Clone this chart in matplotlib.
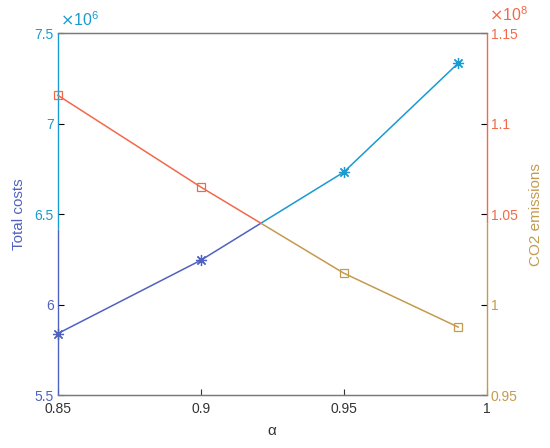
import matplotlib
matplotlib.use("Agg")
import matplotlib.pyplot as plt
from matplotlib.ticker import FuncFormatter, FixedLocator
from matplotlib.patches import Rectangle

plt.rcParams['font.family'] = ['Liberation Sans', 'DejaVu Sans']

alpha = [0.85, 0.90, 0.95, 0.99]
total_costs = [5.84e6, 6.245e6, 6.732e6, 7.334e6]
co2_emissions = [1.1157e8, 1.065e8, 1.0174e8, 0.9876e8]

left_ticks = [5.5e6, 6.0e6, 6.5e6, 7.0e6, 7.5e6]
right_ticks = [0.95e8, 1.0e8, 1.05e8, 1.1e8, 1.15e8]
x_ticks = [0.85, 0.9, 0.95, 1.0]

CYAN = '#1a9ad0'
PURPLE = '#4f62c2'
ORANGE = '#f2694a'
TAN = '#c49a4e'
GRAY = '#7a7a7a'

fig = plt.figure(figsize=(5.5, 4.48), dpi=100)
ax = fig.add_axes([0.105, 0.118, 0.78, 0.808])
ax2 = ax.twinx()

xsplit = 0.473  # axes fraction where colour changes (crossing of the lines)
ysplit_l = 0.46
ysplit_r = 0.475

def split_plot(axis, x, y, c_left, c_right, **kw):
    l1, = axis.plot(x, y, color=c_left, clip_on=True, **kw)
    l2, = axis.plot(x, y, color=c_right, clip_on=True, **kw)
    r1 = Rectangle((-0.05, -0.05), xsplit + 0.05, 1.1, transform=axis.transAxes)
    r2 = Rectangle((xsplit, -0.05), 1.1, 1.1, transform=axis.transAxes)
    l1.set_clip_path(r1)
    l2.set_clip_path(r2)

split_plot(ax, alpha, total_costs, PURPLE, CYAN, lw=1.1,
           marker=(8, 2, 0), markersize=8, markeredgewidth=0.9)
split_plot(ax2, alpha, co2_emissions, ORANGE, TAN, lw=1.1,
           marker='s', markersize=5.5, markerfacecolor='none', markeredgewidth=0.9)

ax.set_xlim(0.85, 1.0)
ax.set_ylim(5.5e6, 7.5e6)
ax2.set_ylim(0.95e8, 1.15e8)

ax.xaxis.set_major_locator(FixedLocator(x_ticks))
ax.xaxis.set_major_formatter(FuncFormatter(lambda v, p: f'{v:g}'))
ax.yaxis.set_major_locator(FixedLocator(left_ticks))
ax.yaxis.set_major_formatter(FuncFormatter(lambda v, p: f'{round(v/1e6, 3):g}'))
ax2.yaxis.set_major_locator(FixedLocator(right_ticks))
ax2.yaxis.set_major_formatter(FuncFormatter(lambda v, p: f'{round(v/1e8, 3):g}'))

for a in (ax, ax2):
    a.tick_params(direction='in', length=4, width=0.8, labelsize=10)
    a.tick_params(axis='x', which='both', top=False)
ax.tick_params(axis='x', colors='#333333', pad=5)
ax.tick_params(axis='y', pad=3)
ax2.tick_params(axis='y', pad=3)

for s in ('top', 'bottom'):
    ax.spines[s].set_color(GRAY)
    ax2.spines[s].set_color(GRAY)
    ax2.spines[s].set_linewidth(1.0)
for a in (ax, ax2):
    a.spines['left'].set_visible(False)
    a.spines['right'].set_visible(False)

# two-tone y spines
ax.plot([0, 0], [0, ysplit_l], transform=ax.transAxes, color=PURPLE, lw=1.0,
        clip_on=False, zorder=5, solid_capstyle='butt')
ax.plot([0, 0], [ysplit_l, 1], transform=ax.transAxes, color=CYAN, lw=1.0,
        clip_on=False, zorder=5, solid_capstyle='butt')
ax2.plot([1, 1], [0, ysplit_r], transform=ax2.transAxes, color=TAN, lw=1.0,
         clip_on=False, zorder=5, solid_capstyle='butt')
ax2.plot([1, 1], [ysplit_r, 1], transform=ax2.transAxes, color=ORANGE, lw=1.0,
         clip_on=False, zorder=5, solid_capstyle='butt')

fig.canvas.draw()
for t, v in zip(ax.yaxis.get_major_ticks(), left_ticks):
    c = PURPLE if v < 6.4e6 else CYAN
    t.label1.set_color(c)
    t.tick1line.set_color(c)
for t, v in zip(ax2.yaxis.get_major_ticks(), right_ticks):
    c = TAN if v < 1.04e8 else ORANGE
    t.label2.set_color(c)
    t.tick2line.set_color(c)

ax.set_xlabel('α', fontsize=11, color='#333333', labelpad=6)
ax.set_ylabel('Total costs', fontsize=11, color=PURPLE, labelpad=6)
ax2.set_ylabel('CO2 emissions', fontsize=11, color=TAN, labelpad=8)

ax.text(0.005, 1.012, r'$\times\mathregular{10^{6}}$', transform=ax.transAxes,
        color=CYAN, fontsize=11.5, ha='left', va='bottom')
ax2.text(1.005, 1.024, r'$\times\mathregular{10^{8}}$', transform=ax2.transAxes,
         color=ORANGE, fontsize=11.5, ha='left', va='bottom')

fig.savefig('out.png', dpi=100)
